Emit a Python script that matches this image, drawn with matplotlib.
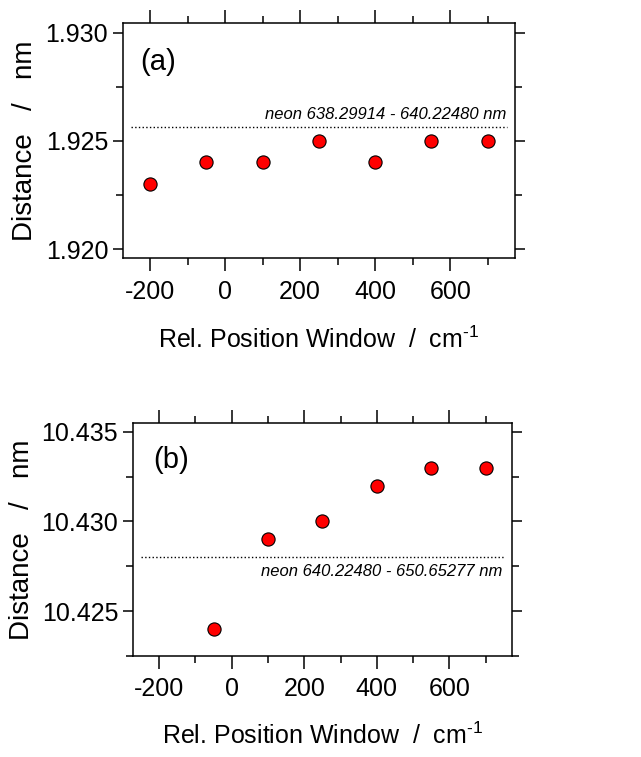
import matplotlib.pyplot as plt
from matplotlib.ticker import MultipleLocator, FormatStrFormatter

plt.rcParams['font.family'] = ['Liberation Sans', 'DejaVu Sans']
plt.rcParams['axes.unicode_minus'] = False
plt.rcParams['mathtext.fontset'] = 'custom'
plt.rcParams['mathtext.rm'] = 'Liberation Sans'

# panel (a)
xa = [-200, -50, 100, 250, 400, 550, 700]
ya = [1.923, 1.924, 1.924, 1.925, 1.924, 1.925, 1.925]
ref_a = 1.92565
label_a = 'neon 638.29914 - 640.22480 nm'

# panel (b)
xb = [-50, 100, 250, 400, 550, 700]
yb = [10.424, 10.429, 10.430, 10.432, 10.433, 10.433]
ref_b = 10.428
label_b = 'neon 640.22480 - 650.65277 nm'

line_x = [-250, 752]
xlabel = r'Rel. Position Window  /  cm$^{\text{-1}}$'
ylabel = 'Distance   /   nm'

fig = plt.figure(figsize=(6.41, 7.57), dpi=100)
ax1 = fig.add_axes([0.192, 0.659, 0.611, 0.311])
ax2 = fig.add_axes([0.2075, 0.1334, 0.591, 0.308])


def style(ax):
    ax.xaxis.set_major_locator(MultipleLocator(200))
    ax.xaxis.set_minor_locator(MultipleLocator(100))
    ax.yaxis.set_major_locator(MultipleLocator(0.005))
    ax.yaxis.set_minor_locator(MultipleLocator(0.0025))
    ax.yaxis.set_major_formatter(FormatStrFormatter('%.3f'))
    ax.tick_params(which='both', direction='out', top=True, right=True,
                   labeltop=False, labelright=False, width=1.1, labelsize=18)
    ax.tick_params(axis='x', which='major', length=9.4, pad=6)
    ax.tick_params(axis='y', which='major', length=7.2, pad=3.5)
    ax.tick_params(which='minor', length=5)
    for s in ax.spines.values():
        s.set_linewidth(1.1)
    ax.set_xlim(-272, 772)


# (a)
ax1.plot(line_x, [ref_a, ref_a], ls=':', color='black', lw=1.0)
ax1.plot(xa, ya, 'o', ms=9.5, mfc='#ff0000', mec='black', mew=0.8)
style(ax1)
ax1.set_ylim(1.91958, 1.93046)
ax1.text(0.045, 0.834, '(a)', transform=ax1.transAxes, fontsize=21, va='center')
ax1.text(750, ref_a + 0.0002, label_a, style='italic', fontsize=12,
         ha='right', va='bottom')
ax1.set_xlabel(xlabel, fontsize=18, va='baseline')
ax1.set_ylabel(ylabel, fontsize=20, va='baseline')
ax1.xaxis.set_label_coords(0.5, -0.383)
ax1.yaxis.set_label_coords(-0.232, 0.5)

# (b)
ax2.plot(line_x, [ref_b, ref_b], ls=':', color='black', lw=1.0)
ax2.plot(xb, yb, 'o', ms=9.5, mfc='#ff0000', mec='black', mew=0.8)
style(ax2)
ax2.set_ylim(10.42249, 10.4355)
ax2.text(0.053, 0.841, '(b)', transform=ax2.transAxes, fontsize=21, va='center')
ax2.text(745, ref_b - 0.0004, label_b, style='italic', fontsize=12,
         ha='right', va='top')
ax2.set_xlabel(xlabel, fontsize=18, va='baseline')
ax2.set_ylabel(ylabel, fontsize=20, va='baseline')
ax2.xaxis.set_label_coords(0.5, -0.378)
ax2.yaxis.set_label_coords(-0.274, 0.5)

fig.savefig('out.png', dpi=100)
